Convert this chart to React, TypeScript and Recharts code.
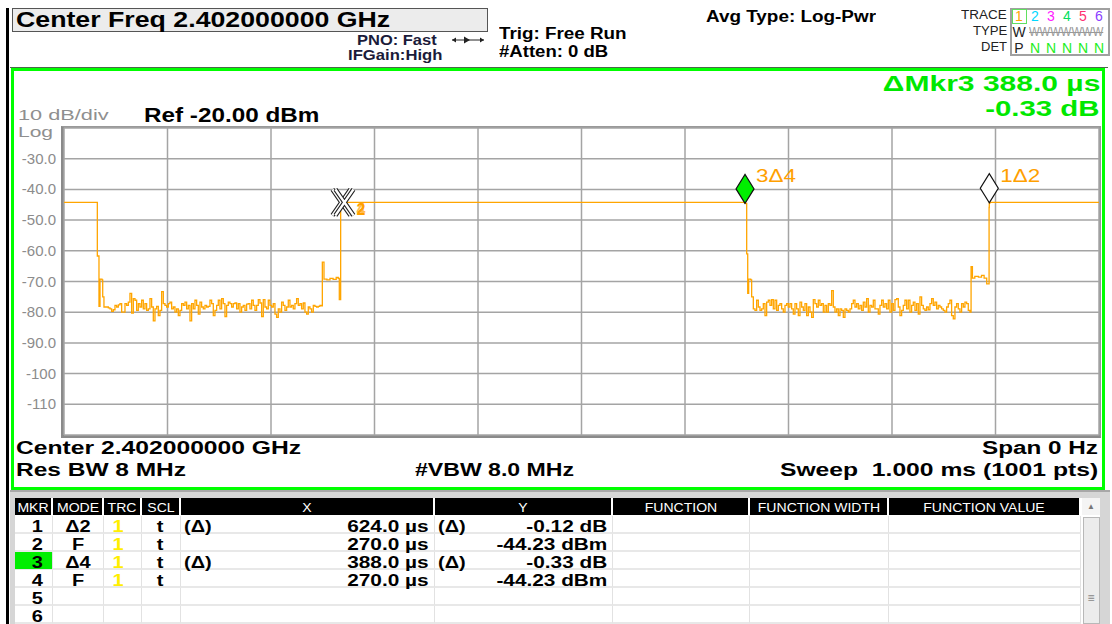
import { useLayoutEffect, useRef, useState } from "react";
import { CartesianGrid, Line, LineChart, ReferenceDot, XAxis, YAxis } from "recharts";

// sweep: 0..1000 us, 1001 pts, amplitude in dBm
const onLevelDbm = -44.23;
const noiseStepUs = 1.61;

const fallEdge1: [number, number][] = [
    [32.2, -61.7], [33.8, -78.1], [34.8, -69.2], [36.7, -69.5], [37.4, -75.0], [38.6, -78.3],
];
const gap1StartUs = 39.6;
const gap1Noise = [
    -78.3, -78.3, -78.6, -78.9, -79.7, -79.2, -77.8, -78.3, -77.6, -77.2,
    -80.0, -80.0, -77.2, -77.8, -76.7, -73.9, -80.3, -75.6, -76.1, -79.4,
    -77.2, -78.3, -76.1, -78.9, -77.2, -79.4, -78.9, -75.6, -78.3, -82.8,
    -78.9, -78.1, -81.1, -79.4, -73.3, -77.2, -77.8, -78.3, -77.2, -76.7,
    -78.9, -78.3, -80.0, -78.9, -81.1, -79.4, -77.2, -77.8, -76.7, -78.9,
    -77.8, -82.8, -77.2, -78.9, -76.1, -77.8, -80.6, -76.7, -78.3, -78.9,
    -77.8, -78.3, -78.1, -76.1, -77.2, -81.1, -79.4, -77.8, -76.1, -78.9,
    -75.6, -77.2, -81.4, -77.8, -76.7, -77.2, -78.3, -77.2, -77.0, -78.9,
    -77.2, -80.0, -78.3, -77.8, -79.4, -77.4, -77.2, -78.9, -76.1, -77.8,
    -79.4, -77.8, -75.9, -77.0, -81.4, -75.9, -78.3, -78.9, -76.1, -77.8,
    -78.3, -77.2, -80.6, -81.7, -78.9, -80.0, -76.7, -77.8, -79.4, -78.3,
    -76.1, -78.3, -77.8, -78.9, -77.2, -75.6, -77.8, -77.2, -78.9, -77.0,
    -80.0, -80.6, -78.3, -78.9, -80.0, -77.8, -78.1, -78.3, -78.1, -77.8,
    -77.9,
];
const riseEdge1: [number, number][] = [
    [249.6, -63.7], [251.2, -69.2], [254.0, -69.5], [257.0, -69.0], [260.0, -69.3],
    [263.0, -68.7], [265.0, -69.0], [266.0, -75.9], [267.3, -44.23],
];
const burstEnd1: [number, number][] = [[658.0, -44.56]];
const fallEdge2: [number, number][] = [
    [659.6, -61.0], [660.6, -73.9], [661.5, -69.2], [663.5, -69.5],
];
const gap2StartUs = 664.4;
const gap2Noise = [
    -75.0, -78.9, -79.4, -76.1, -78.3, -79.4, -78.9, -77.2, -81.1, -76.7,
    -76.1, -77.8, -75.9, -78.9, -76.1, -79.4, -77.8, -77.2, -78.9, -80.0,
    -77.8, -77.2, -78.3, -77.2, -78.9, -80.6, -77.2, -78.9, -81.1, -76.7,
    -78.3, -79.4, -77.2, -81.1, -78.3, -80.0, -81.7, -75.9, -77.2, -78.3,
    -76.1, -77.8, -77.2, -80.0, -77.8, -80.0, -77.2, -77.8, -73.0, -78.3,
    -80.0, -78.9, -81.1, -78.9, -79.4, -81.7, -78.9, -79.4, -80.0, -78.9,
    -77.2, -76.1, -78.3, -77.2, -78.9, -77.8, -79.4, -76.7, -78.3, -75.6,
    -80.0, -77.8, -78.3, -76.1, -78.9, -78.9, -80.6, -77.8, -76.1, -78.3,
    -77.2, -78.9, -76.1, -80.0, -77.2, -79.4, -75.9, -75.6, -78.3, -81.1,
    -79.4, -77.8, -76.1, -78.9, -76.1, -80.0, -77.8, -76.7, -79.4, -77.2,
    -80.6, -75.0, -77.8, -78.9, -79.4, -78.3, -79.2, -77.2, -75.6, -77.8,
    -76.7, -78.9, -77.8, -78.3, -78.9, -79.4, -80.0, -78.3, -77.2, -76.1,
    -81.1, -82.2, -78.3, -77.2, -78.9, -80.0, -77.2, -78.3, -76.7, -77.2,
    -79.4, -80.0,
];
const riseEdge2: [number, number][] = [
    [876.4, -65.2], [877.7, -68.9], [880.0, -68.3], [883.5, -68.6], [886.5, -68.0],
    [889.0, -68.9], [891.5, -70.8], [893.8, -45.9], [894.0, -44.35], [894.8, -44.23],
];

const timeTicksUs = [0, 100, 200, 300, 400, 500, 600, 700, 800, 900, 1000];
const levelTicksDbm = [-120, -110, -100, -90, -80, -70, -60, -50, -40, -30, -20];

// plot markers
const markerTimeUs = [894, 270, 658, 270];
const markerLevelDbm = [-44.35, -44.23, -44.56, -44.23];

// marker table
const mkrIds = ["1", "2", "3", "4", "5", "6"];
const mkrModes = ["Δ2", "F", "Δ4", "F", "", ""];
const mkrTraces = ["1", "1", "1", "1", "", ""];
const mkrScales = ["t", "t", "t", "t", "", ""];
const mkrXRefs = ["(Δ)", "", "(Δ)", "", "", ""];
const mkrXValues = ["624.0 µs", "270.0 µs", "388.0 µs", "270.0 µs", "", ""];
const mkrYRefs = ["(Δ)", "", "(Δ)", "", "", ""];
const mkrYValues = ["-0.12 dB", "-44.23 dBm", "-0.33 dB", "-44.23 dBm", "", ""];
const tableColumns = ["MKR", "MODE", "TRC", "SCL", "X", "Y", "FUNCTION", "FUNCTION WIDTH", "FUNCTION VALUE"];
const tableColumnEdges = [15, 53, 104, 142, 181, 435, 613, 750, 889, 1081];

const traceColors = ["#ffa500", "#00d8ff", "#ff20ff", "#00e060", "#ff3070", "#8a40ff"];

const trace = [
    { t: 0, v: onLevelDbm },
    ...fallEdge1.map(([t, v]) => ({ t, v })),
    ...gap1Noise.map((v, i) => ({ t: gap1StartUs + i * noiseStepUs, v })),
    ...riseEdge1.map(([t, v]) => ({ t, v })),
    ...burstEnd1.map(([t, v]) => ({ t, v })),
    ...fallEdge2.map(([t, v]) => ({ t, v })),
    ...gap2Noise.map((v, i) => ({ t: gap2StartUs + i * noiseStepUs, v })),
    ...riseEdge2.map(([t, v]) => ({ t, v })),
    { t: 1000, v: onLevelDbm },
];

const FONT = '"Liberation Sans", Arial, sans-serif';
const ORANGE = "#ffa000";

type TxtProps = {
    x: number;
    y: number;
    text: string;
    size: number;
    bold?: boolean;
    color?: string;
    align?: "left" | "right" | "center";
    w?: number;
    sx?: number;
    style?: React.CSSProperties;
};

// text placed by its cap centre, squeezed/stretched to a target width
function Txt({ x, y, text, size, bold = false, color = "#000", align = "left", w, sx = 1, style }: TxtProps) {
    const ref = useRef<HTMLSpanElement>(null);
    const [scale, setScale] = useState(sx);
    useLayoutEffect(() => {
        if (w && ref.current && ref.current.offsetWidth > 0) {
            setScale(w / ref.current.offsetWidth);
        }
    }, [w, text, size]);
    const s: React.CSSProperties = {
        position: "absolute",
        top: y - size * 0.5,
        fontSize: size,
        lineHeight: `${size}px`,
        fontWeight: bold ? 700 : 400,
        color,
        whiteSpace: "pre",
        ...style,
    };
    if (align === "right") {
        s.right = 1112 - x;
        s.transform = `scaleX(${scale})`;
        s.transformOrigin = "right center";
    } else if (align === "center") {
        s.left = x;
        s.transform = `translateX(-50%) scaleX(${scale})`;
        s.transformOrigin = "center center";
    } else {
        s.left = x;
        s.transform = `scaleX(${scale})`;
        s.transformOrigin = "left center";
    }
    return <span ref={ref} style={s}>{text}</span>;
}

const fmtLevel = (v: number) => (v > -100 ? v.toFixed(1) : String(v));

const LevelTick = (props: any) => {
    const { x, y, payload } = props;
    if (payload.value > -30 || payload.value < -110) return null;
    return (
        <text x={x} y={y} dy={5} textAnchor="end" fill="#8c8c8c" fontSize={15} fontFamily={FONT}>
            {fmtLevel(payload.value)}
        </text>
    );
};

const DiamondMark = ({ cx, cy, fill, label }: any) => (
    <g>
        <polygon
            points={`${cx},${cy} ${cx - 9},${cy - 14.5} ${cx},${cy - 29} ${cx + 9},${cy - 14.5}`}
            fill={fill}
            stroke="#111"
            strokeWidth={1.2}
        />
        <text x={cx + 11} y={cy - 21} fill={ORANGE} fontSize={18} fontFamily={FONT}
            textLength={40} lengthAdjust="spacingAndGlyphs">
            {label}
        </text>
    </g>
);

const CrossMark = ({ cx, cy }: any) => (
    <g>
        {[-2, 1].map((dx) => (
            <g key={dx} transform={`translate(${cx + dx},${cy})`}>
                <path d="M-9,-13 L9,13 M9,-13 L-9,13" stroke="#222" strokeWidth={4.5} />
                <path d="M-9,-13 L9,13 M9,-13 L-9,13" stroke="#fff" strokeWidth={2.5} />
            </g>
        ))}
        <text x={cx + 13} y={cy + 13} fill={ORANGE} fontSize={16} fontWeight="bold" fontFamily={FONT} opacity={0.7}>4</text>
        <text x={cx + 13} y={cy + 13} fill={ORANGE} fontSize={16} fontWeight="bold" fontFamily={FONT}>2</text>
    </g>
);

function TraceChart() {
    return (
        <div style={{ position: "absolute", left: 14, top: 120 }}>
            <LineChart width={1090} height={317} data={trace} margin={{ top: 8, right: 5, bottom: 2, left: 0 }}>
                <CartesianGrid stroke="#a4a4a4" strokeWidth={1.5} />
                <XAxis type="number" dataKey="t" domain={[0, 1000]} ticks={timeTicksUs} hide />
                <YAxis
                    type="number"
                    domain={[-120, -20]}
                    ticks={levelTicksDbm}
                    interval={0}
                    width={50}
                    axisLine={false}
                    tickLine={false}
                    tick={<LevelTick />}
                />
                <Line
                    type="stepAfter"
                    dataKey="v"
                    stroke="#ffa500"
                    strokeWidth={1.3}
                    dot={false}
                    isAnimationActive={false}
                />
                <ReferenceDot x={markerTimeUs[1]} y={markerLevelDbm[1]} shape={(p: any) => <CrossMark {...p} />} />
                <ReferenceDot x={markerTimeUs[2]} y={markerLevelDbm[2]}
                    shape={(p: any) => <DiamondMark {...p} fill="#00ee00" label="3Δ4" />} />
                <ReferenceDot x={markerTimeUs[0]} y={markerLevelDbm[0]}
                    shape={(p: any) => <DiamondMark {...p} fill="#ffffff" label="1Δ2" />} />
            </LineChart>
        </div>
    );
}

function TraceBox() {
    const cols = [1019, 1035, 1051, 1067, 1083, 1099];
    return (
        <>
            <Txt x={1007} y={15} text="TRACE" size={12} align="right" w={46} color="#222" />
            <Txt x={1007} y={31} text="TYPE" size={12} align="right" w={34} color="#222" />
            <Txt x={1007} y={47} text="DET" size={12} align="right" w={26} color="#222" />
            <div style={{ position: "absolute", left: 1010, top: 8, width: 100, height: 48, border: "2px solid #a0a0a0", boxSizing: "border-box" }} />
            <div style={{ position: "absolute", left: 1012, top: 9, width: 15, height: 15, border: "1px solid #60e060", boxSizing: "border-box" }} />
            {cols.map((cx, i) => (
                <Txt key={i} x={cx} y={16} text={String(i + 1)} size={14} align="center" color={traceColors[i]} />
            ))}
            <Txt x={1019} y={32} text="W" size={14} align="center" color="#222" />
            <Txt x={1029} y={32} text="WWWWWWW" size={12} w={74} color="#999"
                style={{ textDecoration: "line-through" }} />
            <Txt x={1019} y={48} text="P" size={14} align="center" color="#222" />
            {cols.slice(1).map((cx, i) => (
                <Txt key={i} x={cx} y={48} text="N" size={14} align="center" color="#22ee22" />
            ))}
        </>
    );
}

function MarkerTable() {
    const rowTop = 516;
    const rowH = 18;
    return (
        <>
            <div style={{ position: "absolute", left: 10, top: 490, width: 1100, height: 134, background: "#d6d6d6", borderTop: "2px solid #a8a8a8", boxSizing: "border-box" }} />
            <div style={{ position: "absolute", left: 15, top: 498, width: 1085, height: 126, background: "#fff" }} />
            {tableColumns.map((c, i) => {
                const l = tableColumnEdges[i];
                const r = tableColumnEdges[i + 1] - 2;
                return (
                    <div key={c}>
                        <div style={{ position: "absolute", left: l, top: 498, width: r - l, height: 17, background: "#000" }} />
                        <Txt x={(l + r) / 2} y={507} text={c} size={13} align="center" color="#fff" sx={1.08} />
                        {mkrIds.map((_, j) => (
                            <div key={j} style={{ position: "absolute", left: l, top: rowTop + j * rowH, width: r - l + 2, height: rowH, borderRight: "1px solid #e2e2e2", borderBottom: "2px solid #e8e8e8", boxSizing: "border-box" }} />
                        ))}
                    </div>
                );
            })}
            <div style={{ position: "absolute", left: 15, top: rowTop + 2 * rowH, width: 37, height: rowH - 1, background: "#00ee00" }} />
            {mkrIds.map((id, j) => {
                const cy = rowTop + j * rowH + 10.5;
                return (
                    <div key={id}>
                        <Txt x={43} y={cy} text={id} size={16} bold align="right" sx={1.25} />
                        <Txt x={78} y={cy} text={mkrModes[j]} size={16} bold align="center" sx={1.25} />
                        <Txt x={118} y={cy} text={mkrTraces[j]} size={16} bold align="center" color="#ffee00" sx={1.25} />
                        <Txt x={160} y={cy} text={mkrScales[j]} size={16} bold align="center" sx={1.25} />
                        <Txt x={184} y={cy} text={mkrXRefs[j]} size={16} bold sx={1.25} />
                        <Txt x={429} y={cy} text={mkrXValues[j]} size={16} bold align="right" sx={1.3} />
                        <Txt x={438} y={cy} text={mkrYRefs[j]} size={16} bold sx={1.25} />
                        <Txt x={607} y={cy} text={mkrYValues[j]} size={16} bold align="right" sx={1.3} />
                    </div>
                );
            })}
            <div style={{ position: "absolute", left: 1082, top: 498, width: 18, height: 17, background: "#f4f4f4" }} />
            <Txt x={1091} y={507} text="▲" size={8} align="center" color="#777" />
            <div style={{ position: "absolute", left: 1083, top: 517, width: 17, height: 107, background: "#ececec", border: "1px solid #b8b8b8", boxSizing: "border-box" }} />
            <Txt x={1091} y={598} text="≡" size={12} align="center" color="#888" />
        </>
    );
}

export default function App() {
    return (
        <div style={{ position: "absolute", left: 0, top: 0, width: 1112, height: 624, background: "#fff", overflow: "hidden", fontFamily: FONT }}>
            {/* header */}
            <div style={{ position: "absolute", left: 6, top: 8, width: 3, height: 616, background: "#000" }} />
            <div style={{ position: "absolute", left: 12, top: 8, width: 476, height: 24, background: "#ececec", border: "1px solid #555", boxSizing: "border-box" }} />
            <Txt x={16} y={20} text="Center Freq 2.402000000 GHz" size={22} bold w={374} />
            <Txt x={357} y={40} text="PNO: Fast" size={14} bold w={80} color="#1b1b3a" />
            <Txt x={348} y={55} text="IFGain:High" size={14} bold w={94} color="#1b1b3a" />
            <svg style={{ position: "absolute", left: 450, top: 34 }} width={36} height={12}>
                <line x1={2} y1={6} x2={34} y2={6} stroke="#222" strokeWidth={1} />
                <polygon points="2,6 6,3.5 6,8.5" fill="#222" />
                <polygon points="20,6 14,2.5 14,9.5" fill="#222" />
                <polygon points="34,6 30,3.5 30,8.5" fill="#222" />
            </svg>
            <Txt x={499} y={34} text="Trig: Free Run" size={16} bold w={127} />
            <Txt x={499} y={52} text="#Atten: 0 dB" size={16} bold w={109} />
            <Txt x={706} y={17} text="Avg Type: Log-Pwr" size={16} bold w={170} />
            <TraceBox />

            {/* graticule area */}
            <div style={{ position: "absolute", left: 10, top: 67, width: 1098, height: 1, background: "#4a6a4a" }} />
            <div style={{ position: "absolute", left: 11, top: 68, width: 1094, height: 422, border: "3px solid #00ff00", boxSizing: "border-box" }} />
            <Txt x={1100} y={84} text="ΔMkr3 388.0 µs" size={22} bold align="right" w={217} color="#00e800" />
            <Txt x={1100} y={109} text="-0.33 dB" size={22} bold align="right" w={115} color="#00e800" />
            <Txt x={18} y={115} text="10 dB/div" size={14} w={90} color="#8f8f8f" />
            <Txt x={18} y={131} text="Log" size={15} w={35} color="#8f8f8f" />
            <Txt x={144} y={115} text="Ref -20.00 dBm" size={20} bold w={176} />
            <div style={{ position: "absolute", left: 61, top: 126, width: 1040, height: 312, borderLeft: "3px solid #8a8a8a", borderBottom: "3px solid #8a8a8a", borderTop: "2px solid #999", borderRight: "2px solid #999", boxSizing: "border-box" }} />
            <TraceChart />
            <Txt x={16} y={448} text="Center 2.402000000 GHz" size={18} bold w={285} />
            <Txt x={1098} y={448} text="Span 0 Hz" size={18} bold align="right" w={116} />
            <Txt x={16} y={470} text="Res BW 8 MHz" size={18} bold w={170} />
            <Txt x={415} y={470} text="#VBW 8.0 MHz" size={18} bold w={159} />
            <Txt x={1098} y={470} text="Sweep  1.000 ms (1001 pts)" size={18} bold align="right" w={318} />

            <MarkerTable />
        </div>
    );
}
